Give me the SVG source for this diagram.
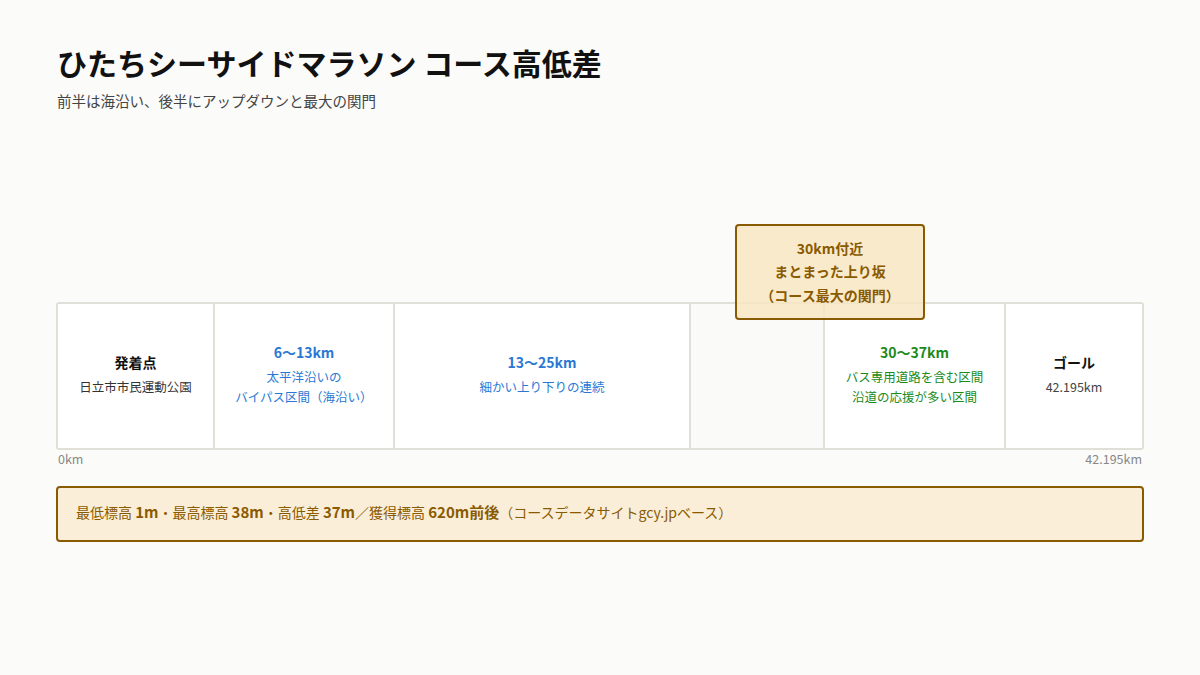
<svg xmlns="http://www.w3.org/2000/svg" width="1200" height="675" viewBox="0 0 1200 675">
<style>
text{font-family:"Noto Sans CJK JP","Noto Sans",sans-serif}
.seg{fill:#fff;stroke:#e0dfd8;stroke-width:2}
.t{font-size:14px;font-weight:700;text-anchor:middle}
.s{font-size:12.5px;text-anchor:middle}
.ax{font-size:12.5px;fill:#888}
</style>
<rect width="1200" height="675" fill="#fbfbf9"/>
<text x="57" y="75" font-size="30" font-weight="700" fill="#111">ひたちシーサイドマラソン コース高低差</text>
<text x="57" y="107" font-size="14.5" fill="#444">前半は海沿い、後半にアップダウンと最大の関門</text>
<g id="start"><rect class="seg" x="57" y="303" width="157" height="146" rx="2"/><text class="t" x="135.5" y="368" fill="#111">発着点</text><text class="s" x="135.5" y="392" fill="#333">日立市市民運動公園</text></g>
<g id="seg1"><rect class="seg" x="214" y="303" width="180" height="146"/><text class="t" x="304" y="358" fill="#2a78d4">6〜13km</text><text class="s" x="304" y="382" fill="#2a78d4">太平洋沿いの</text><text class="s" x="304" y="402" fill="#2a78d4">バイパス区間（海沿い）</text></g>
<g id="seg2"><rect class="seg" x="394" y="303" width="296" height="146"/><text class="t" x="542" y="368" fill="#2a78d4">13〜25km</text><text class="s" x="542" y="392" fill="#2a78d4">細かい上り下りの連続</text></g>
<g id="seg3"><rect class="seg" x="690" y="303" width="134" height="146" style="fill:#fafaf8"/></g>
<g id="seg4"><rect class="seg" x="824" y="303" width="181" height="146"/><text class="t" x="914.5" y="358" fill="#1a8a1a">30〜37km</text><text class="s" x="914.5" y="382" fill="#1a8a1a">バス専用道路を含む区間</text><text class="s" x="914.5" y="402" fill="#1a8a1a">沿道の応援が多い区間</text></g>
<g id="goal"><rect class="seg" x="1005" y="303" width="138" height="146" rx="2"/><text class="t" x="1074" y="368" fill="#111">ゴール</text><text class="s" x="1074" y="392" fill="#444" font-size="13.5">42.195km</text></g>
<g id="callout"><rect x="736" y="225" width="188" height="94" rx="3" fill="#f8e6c4" fill-opacity="0.85" stroke="#8a5a00" stroke-width="2"/><text class="t" x="830" y="254" fill="#8a5a00" font-size="13.5">30km付近</text><text class="t" x="830" y="277" fill="#8a5a00" font-size="13.5">まとまった上り坂</text><text class="t" x="830" y="301" fill="#8a5a00" font-size="13.5">（コース最大の関門）</text></g>
<text class="ax" x="58" y="464">0km</text>
<text class="ax" x="1142" y="464" text-anchor="end">42.195km</text>
<g id="stats"><rect x="57" y="487" width="1086" height="54" rx="3" fill="#faeed8" stroke="#8a5a00" stroke-width="2"/><text x="76" y="518" font-size="14" fill="#8a5a00">最低標高 <tspan font-weight="700" font-size="15">1m</tspan>・最高標高 <tspan font-weight="700" font-size="15">38m</tspan>・高低差 <tspan font-weight="700" font-size="15">37m</tspan>／獲得標高 <tspan font-weight="700" font-size="15">620m前後</tspan>（コースデータサイトgcy.jpベース）</text></g>
<g id="connectors"/>
</svg>
